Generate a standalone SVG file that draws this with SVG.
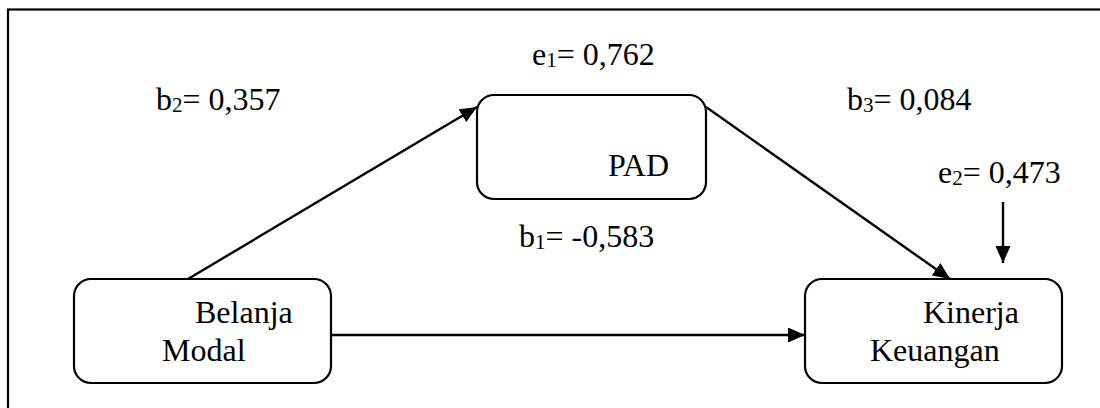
<svg xmlns="http://www.w3.org/2000/svg" width="1100" height="408" viewBox="0 0 1100 408">
  <style>
    .box { fill: #fff; stroke: #000; stroke-width: 2.2; }
    .edge { stroke: #000; stroke-width: 2.4; fill: none; }
    text { font-family: "Liberation Serif", "Times New Roman", serif; font-size: 32px; fill: #000; }
    .sub { font-size: 21px; }
  </style>
  <defs>
    <marker id="arrow" viewBox="0 0 17 15" refX="17" refY="7.5" markerWidth="17" markerHeight="15" markerUnits="userSpaceOnUse" orient="auto">
      <path d="M0,0 L17,7.5 L0,15 Z" fill="#000"/>
    </marker>
  </defs>

  <!-- outer frame -->
  <rect x="8" y="9.5" width="1110" height="420" fill="none" stroke="#000" stroke-width="2.2"/>

  <!-- connectors -->
  <g id="connectors">
    <line class="edge" x1="188" y1="279" x2="477" y2="107" marker-end="url(#arrow)"/>
    <line class="edge" x1="706" y1="107" x2="950" y2="279" marker-end="url(#arrow)"/>
    <line class="edge" x1="331" y1="335" x2="805" y2="335" marker-end="url(#arrow)"/>
    <line class="edge" x1="1003" y1="202" x2="1003" y2="263" marker-end="url(#arrow)"/>
  </g>

  <!-- nodes -->
  <g id="node-pad">
    <rect class="box" x="477" y="95" width="229" height="104" rx="17"/>
    <text x="608" y="176">PAD</text>
  </g>
  <g id="node-belanja-modal">
    <rect class="box" x="74" y="279" width="257" height="104" rx="17"/>
    <text x="195" y="323">Belanja</text>
    <text x="162" y="361">Modal</text>
  </g>
  <g id="node-kinerja-keuangan">
    <rect class="box" x="805" y="279" width="257" height="104" rx="17"/>
    <text x="923" y="323">Kinerja</text>
    <text x="870" y="361">Keuangan</text>
  </g>

  <!-- path coefficients and errors -->
  <g id="labels">
    <text x="156" y="110">b<tspan class="sub" dy="2">2</tspan><tspan dy="-2">= 0,357</tspan></text>
    <text x="532" y="65">e<tspan class="sub" dy="2">1</tspan><tspan dy="-2">= 0,762</tspan></text>
    <text x="847" y="110">b<tspan class="sub" dy="2">3</tspan><tspan dy="-2">= 0,084</tspan></text>
    <text x="938" y="183">e<tspan class="sub" dy="2">2</tspan><tspan dy="-2">= 0,473</tspan></text>
    <text x="519" y="247">b<tspan class="sub" dy="2">1</tspan><tspan dy="-2">= -0,583</tspan></text>
  </g>
</svg>
